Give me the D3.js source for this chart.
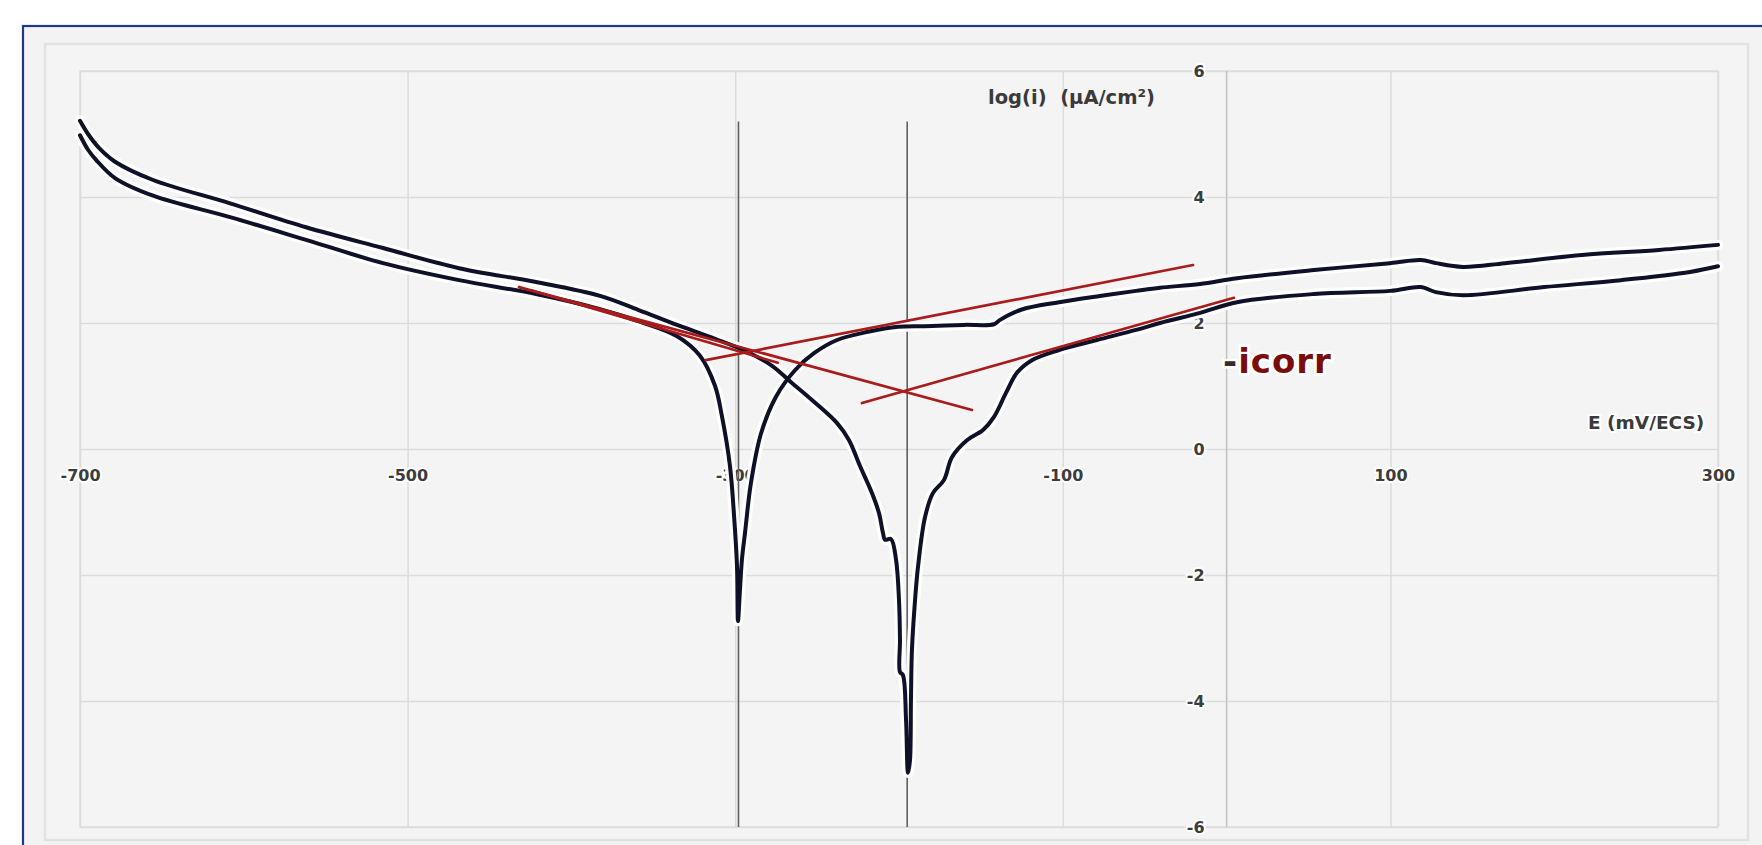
<!DOCTYPE html>
<html><head><meta charset="utf-8">
<script src="https://cdn.jsdelivr.net/npm/d3@7"></script>
<style>body{margin:0;background:#fff;} svg{display:block;} .pre{white-space:pre;}</style>
</head><body>
<svg id="c" width="1762" height="845"></svg>
<script>
// ---- data (E in mV/ECS, log(i) in µA/cm²) ----
const xTicks = [-700, -500, -300, -100, 100, 300];
const yTicks = [6, 4, 2, 0, -2, -4, -6];
const ecorr = [-298, -195];
const ecorrTop = 5.2;

// curve with shallower dip (Ecorr ≈ -298)
const seriesA = [[-700,4.98],[-695.1,4.75],[-690.2,4.59],[-678.6,4.30],[-655.4,4.02],[-608.4,3.68],[-562,3.32],[-515,2.95],[-468.6,2.68],[-421.6,2.46],[-382.5,2.22],[-359.3,2.03],[-335.5,1.79],[-321.5,1.48],[-312.3,1.00],[-308.1,0.52],[-303.2,-0.27],[-300.7,-1.06],[-298.9,-1.86],[-298.3,-2.73],[-297.1,-2.24],[-295.9,-1.76],[-294,-1.33],[-290.4,-0.54],[-284.2,0.25],[-275.1,0.83],[-263.5,1.25],[-251.9,1.52],[-237.8,1.73],[-218.9,1.86],[-200.6,1.94],[-184.1,1.95],[-160.3,1.97],[-142,1.98],[-138.3,2.05],[-125.5,2.21],[-102.3,2.33],[-77.3,2.43],[-55.3,2.51],[-40.7,2.56],[-16.2,2.62],[6.4,2.71],[53.4,2.84],[99.8,2.95],[118.7,3.00],[127.8,2.95],[144.3,2.89],[170,2.95],[217,3.08],[264,3.16],[300,3.24]];

// curve with deep dip (Ecorr ≈ -195)
const seriesB = [[-700,5.21],[-695.1,5.00],[-688.4,4.78],[-678.6,4.56],[-655.4,4.27],[-608.4,3.90],[-562,3.52],[-515,3.19],[-468.6,2.87],[-421.6,2.65],[-382.5,2.43],[-359.3,2.21],[-335.5,1.97],[-312.3,1.75],[-294,1.56],[-277.5,1.32],[-265.9,1.06],[-251.9,0.75],[-237.8,0.41],[-230.5,0.14],[-223.8,-0.27],[-216.5,-0.70],[-212.2,-1.02],[-209.8,-1.33],[-208.5,-1.44],[-204.9,-1.43],[-201.8,-1.76],[-200,-2.40],[-199.4,-3.03],[-199.4,-3.54],[-197.6,-3.59],[-195.7,-4.30],[-194.5,-5.14],[-193.3,-4.94],[-192.7,-3.98],[-192.1,-3.19],[-190.2,-2.40],[-188.4,-1.87],[-184.1,-1.08],[-179.3,-0.70],[-172.5,-0.49],[-167.7,-0.13],[-158.5,0.14],[-148.7,0.30],[-142,0.51],[-134.7,0.89],[-128,1.21],[-118.8,1.41],[-102.3,1.57],[-79.1,1.73],[-55.3,1.89],[-40.7,2.00],[-16.2,2.16],[6.4,2.33],[53.4,2.46],[99.8,2.51],[118.7,2.57],[127.8,2.49],[144.3,2.44],[193.8,2.57],[240.8,2.68],[282.9,2.81],[300,2.90]];

// Tafel extrapolation lines: [E start, E end] and [log start, log end]
const tafelE = [[-425, -274], [-318, -20.5], [-432, -155.4], [-222.6, 4.5]];
const tafelLog = [[2.52, 1.37], [1.41, 2.92], [2.57, 0.62], [0.73, 2.40]];

const yTitle = "log(i)  (µA/cm²)";
const xTitle = "E (mV/ECS)";
const noteLabel = ["-", "icorr"];

// ---- drawing ----
const svg = d3.select("#c");
const x = d3.scaleLinear().domain([-700, 300]).range([80, 1718]);
const y = d3.scaleLinear().domain([-6, 6]).range([827, 71]);
const FONT = "'DejaVu Sans', sans-serif";

svg.append("rect").attr("width", 1762).attr("height", 845).attr("fill", "#ffffff");
svg.append("rect").attr("x", 23).attr("y", 26).attr("width", 1800).attr("height", 900)
  .attr("fill", "#f3f3f3").attr("stroke", "#1b3a8c").attr("stroke-width", 2.2);
svg.append("rect").attr("x", 45).attr("y", 44).attr("width", 1703).attr("height", 796)
  .attr("fill", "#f4f4f4").attr("stroke", "#e2e2e2").attr("stroke-width", 2.5);
svg.append("rect").attr("x", 80).attr("y", 71).attr("width", 1638).attr("height", 756)
  .attr("fill", "#f4f4f4").attr("stroke", "#dedede").attr("stroke-width", 1.5);

// gridlines through axes (no labels)
const gx = svg.append("g").attr("transform", `translate(0,${y(-6)})`)
  .call(d3.axisBottom(x).tickValues(xTicks).tickSize(-(y(-6) - y(6))).tickFormat(""));
gx.select(".domain").remove();
gx.selectAll("line").attr("stroke", "#dcdcdc").attr("stroke-width", 1.5);
gx.selectAll("text").remove();
const gy = svg.append("g").attr("transform", `translate(${x(-700)},0)`)
  .call(d3.axisLeft(y).tickValues(yTicks).tickSize(-(x(300) - x(-700))).tickFormat(""));
gy.select(".domain").remove();
gy.selectAll("line").attr("stroke", "#dcdcdc").attr("stroke-width", 1.5);
gy.selectAll("text").remove();

// vertical axis line at E = 0
svg.append("line").attr("x1", x(0)).attr("x2", x(0)).attr("y1", y(6)).attr("y2", y(-6))
  .attr("stroke", "#c2c2c2").attr("stroke-width", 1.6);

// tick labels
const xAxis = svg.append("g").attr("transform", `translate(0,${y(0)})`)
  .call(d3.axisBottom(x).tickValues(xTicks).tickSize(0).tickPadding(21).tickFormat(d => String(d)));
xAxis.select(".domain").remove();
const yAxis = svg.append("g").attr("transform", `translate(${x(0)},0)`)
  .call(d3.axisLeft(y).tickValues(yTicks).tickSize(0).tickPadding(22).tickFormat(d => String(d)));
yAxis.select(".domain").remove();
[xAxis, yAxis].forEach(g => g.selectAll("text")
  .attr("font-family", FONT).attr("font-size", 16).attr("font-weight", "bold")
  .attr("fill", "#3c3c3c").attr("stroke", "#ffffff").attr("stroke-width", 4)
  .attr("paint-order", "stroke").attr("stroke-linejoin", "round"));

// axis titles
svg.append("text").attr("class", "pre").attr("x", 988).attr("y", 104).text(yTitle)
  .attr("font-family", FONT).attr("font-size", 19.5).attr("font-weight", "bold").attr("fill", "#3a3a3a");
svg.append("text").attr("x", 1588).attr("y", 429).text(xTitle)
  .attr("font-family", FONT).attr("font-size", 18.5).attr("font-weight", "bold").attr("fill", "#3a3a3a")
  .attr("stroke", "#ffffff").attr("stroke-width", 4).attr("paint-order", "stroke");

// Ecorr vertical lines
svg.append("g").selectAll("line").data(ecorr).join("line")
  .attr("x1", d => x(d)).attr("x2", d => x(d)).attr("y1", y(ecorrTop)).attr("y2", y(-6))
  .attr("stroke", "#606060").attr("stroke-width", 1.6);

// polarization curves
const line = d3.line().x(d => x(d[0])).y(d => y(d[1])).curve(d3.curveCatmullRom.alpha(0.5));
const curves = [seriesA, seriesB];
svg.append("g").selectAll("path").data(curves).join("path")
  .attr("d", line).attr("fill", "none").attr("stroke", "#ffffff").attr("stroke-width", 10.5)
  .attr("stroke-linejoin", "round").attr("stroke-linecap", "round").attr("opacity", 0.95);
svg.append("g").selectAll("path").data(curves).join("path")
  .attr("d", line).attr("fill", "none").attr("stroke", "#0f1128").attr("stroke-width", 4)
  .attr("stroke-linejoin", "round").attr("stroke-linecap", "round");

// Tafel lines
svg.append("g").selectAll("line").data(d3.range(tafelE.length)).join("line")
  .attr("x1", i => x(tafelE[i][0])).attr("x2", i => x(tafelE[i][1]))
  .attr("y1", i => y(tafelLog[i][0])).attr("y2", i => y(tafelLog[i][1]))
  .attr("stroke", "#a81c1c").attr("stroke-width", 2.7).attr("stroke-linecap", "round");

// -icorr annotation
const note = svg.append("text").attr("x", 1223).attr("y", 373)
  .attr("font-family", FONT).attr("font-size", 34).attr("font-weight", "bold")
  .attr("letter-spacing", 1)
  .attr("stroke", "#ffffff").attr("stroke-width", 5).attr("paint-order", "stroke");
note.append("tspan").text(noteLabel[0]).attr("fill", "#3a2a2a");
note.append("tspan").text(noteLabel[1]).attr("fill", "#7a0c0c");
</script>
</body></html>
